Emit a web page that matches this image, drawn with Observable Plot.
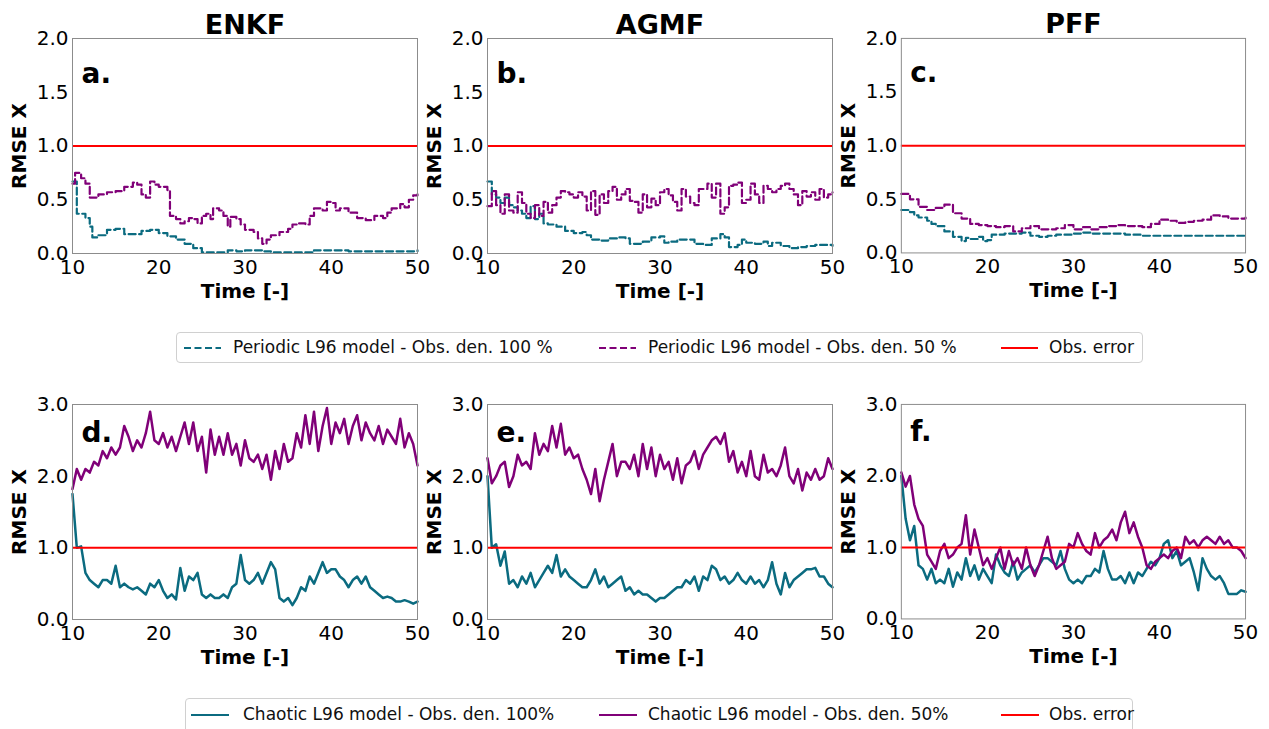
<!DOCTYPE html>
<html>
<head>
<meta charset="utf-8">
<script src="https://cdn.jsdelivr.net/npm/d3@7"></script>
<script src="https://cdn.jsdelivr.net/npm/@observablehq/plot@0.6"></script>
<style>
  html, body { margin: 0; padding: 0; background: #fff; }
  #root { position: relative; width: 1269px; height: 729px; overflow: hidden; background: #fff; font-family: "DejaVu Sans", sans-serif; }
  .panel { position: absolute; }
  .legend { position: absolute; border: 1px solid #d0d0d0; border-radius: 4px; background: #fff; box-sizing: border-box; }
  .item { position: absolute; font-size: 17px; color: #111; white-space: nowrap; line-height: 1; }
  .sw { position: absolute; }
</style>
</head>
<body>
<div id="root"></div>
<script>
// ---------------- DATA ----------------
const methods = ["ENKF", "AGMF", "PFF"];
const topLetters = ["a.", "b.", "c."];
const bottomLetters = ["d.", "e.", "f."];
const xTicks = [10, 20, 30, 40, 50];
const yTicksTop = [0, 0.5, 1.0, 1.5, 2.0];
const yTicksBottom = [0, 1, 2, 3];
const obsError = 1.0;

const legendTopLabels = ["Periodic L96 model - Obs. den. 100 %", "Periodic L96 model - Obs. den. 50 %", "Obs. error"];
const legendBottomLabels = ["Chaotic L96 model - Obs. den. 100%", "Chaotic L96 model - Obs. den. 50%", "Obs. error"];

// Periodic model (top row), step series
const enkfPer100T = [10,10.5,11.5,12,12.3,13,14,15,16,17,18,19,20,21,22,23,24,25,27,28,29,30,31,32,33,37,38,40,42,48,50];
const enkfPer100 = [0.67,0.37,0.33,0.25,0.15,0.17,0.22,0.23,0.18,0.18,0.21,0.22,0.19,0.16,0.13,0.09,0.05,0.01,0.01,0.03,0.02,0.03,0.03,0.02,0.01,0.01,0.03,0.03,0.02,0.02,0.03];
const enkfPer50T = [10,10.3,11,11.5,12,13,14,15,16,17,17.5,18,18.5,19,19.5,20,21,21.3,22,22.5,23,23.5,24,24.5,25,25.5,26,26.3,27,27.5,28,28.3,29,29.5,30,31,31.5,32,32.5,33,34,35,35.5,36,37,37.5,38,39,39.5,40,40.5,41,42,43,44,45,46,46.5,47,48,48.5,49,49.5,50];
const enkfPer50 = [0.65,0.75,0.7,0.65,0.52,0.55,0.57,0.58,0.62,0.66,0.64,0.55,0.52,0.67,0.64,0.62,0.59,0.35,0.32,0.28,0.3,0.33,0.32,0.28,0.35,0.37,0.32,0.42,0.40,0.35,0.25,0.34,0.32,0.27,0.22,0.2,0.14,0.09,0.13,0.17,0.2,0.23,0.27,0.28,0.27,0.35,0.42,0.4,0.48,0.47,0.4,0.42,0.38,0.33,0.31,0.35,0.33,0.38,0.42,0.46,0.43,0.5,0.54,0.55];

const agmfPer100T = [10,10.5,11,11.5,12,12.5,13,13.5,14,14.5,15,15.5,16,16.5,17,18,19,20,21,21.5,22,23,24,25,26,26.5,28,29,30,30.5,31,32,33,34,35,36,37,37.5,38,39,39.5,40,41,42,42.5,43,44,45,46,47,48,50];
const agmfPer100 = [0.67,0.55,0.52,0.47,0.52,0.45,0.43,0.4,0.37,0.33,0.44,0.32,0.37,0.28,0.27,0.25,0.21,0.19,0.2,0.17,0.13,0.12,0.14,0.15,0.14,0.09,0.11,0.15,0.16,0.1,0.11,0.13,0.13,0.09,0.08,0.14,0.18,0.15,0.06,0.08,0.13,0.1,0.09,0.11,0.07,0.1,0.07,0.05,0.06,0.07,0.08,0.07];
const agmfPer50T = d3.range(10, 50.01, 0.5);
const agmfPer50 = [
  0.44,0.58,0.45,0.37,0.55,0.4,0.38,0.57,0.47,0.37,
  0.33,0.45,0.35,0.48,0.38,0.45,0.52,0.58,0.57,0.55,
  0.52,0.57,0.53,0.4,0.58,0.36,0.55,0.47,0.58,0.62,
  0.5,0.55,0.6,0.49,0.48,0.38,0.55,0.43,0.51,0.45,
  0.57,0.6,0.54,0.48,0.4,0.6,0.53,0.47,0.45,0.6,
  0.6,0.65,0.52,0.65,0.37,0.43,0.63,0.64,0.66,0.47,
  0.5,0.65,0.55,0.47,0.63,0.6,0.57,0.6,0.63,0.65,
  0.6,0.55,0.45,0.58,0.53,0.57,0.5,0.6,0.52,0.55,
  0.57];

const pffPer100T = [10,11,11.5,12,13,13.5,14,15,16,17,17.5,18,19,19.5,20,20.5,22,24,25,26,27,28,30,31,32,36,38,50];
const pffPer100 = [0.4,0.38,0.35,0.33,0.3,0.27,0.25,0.2,0.15,0.11,0.14,0.13,0.15,0.11,0.12,0.17,0.18,0.19,0.16,0.15,0.16,0.17,0.18,0.19,0.18,0.17,0.16,0.16];
const pffPer50T = d3.range(10, 50.01, 1);
const pffPer50 = [
  0.55,0.5,0.43,0.4,0.42,0.45,0.37,0.32,0.27,0.26,
  0.25,0.24,0.25,0.2,0.23,0.25,0.22,0.22,0.23,0.26,
  0.22,0.24,0.22,0.24,0.25,0.26,0.25,0.25,0.24,0.27,
  0.31,0.3,0.28,0.29,0.3,0.31,0.35,0.34,0.32,0.32,
  0.33];

// Chaotic model (bottom row), sampled every 0.5 time units
const chaoticT = d3.range(10, 50.01, 0.5);
const enkfCha100 = [
  1.75,1.0,1.02,0.65,0.55,0.5,0.45,0.55,0.55,0.5,
  0.75,0.45,0.5,0.45,0.42,0.45,0.4,0.35,0.5,0.45,
  0.55,0.4,0.3,0.35,0.28,0.72,0.4,0.6,0.55,0.65,
  0.35,0.3,0.35,0.3,0.3,0.35,0.3,0.45,0.5,0.9,
  0.55,0.5,0.55,0.65,0.5,0.65,0.8,0.7,0.3,0.25,
  0.3,0.2,0.3,0.45,0.4,0.6,0.5,0.65,0.8,0.65,
  0.7,0.7,0.6,0.55,0.45,0.55,0.6,0.5,0.6,0.45,
  0.4,0.35,0.3,0.32,0.3,0.25,0.25,0.27,0.25,0.22,
  0.25];
const enkfCha50 = [
  1.82,2.1,1.95,2.1,2.05,2.2,2.15,2.35,2.25,2.4,
  2.3,2.4,2.7,2.55,2.35,2.5,2.4,2.6,2.9,2.5,
  2.45,2.6,2.4,2.55,2.35,2.55,2.75,2.45,2.75,2.35,
  2.55,2.05,2.65,2.3,2.55,2.3,2.6,2.3,2.45,2.15,
  2.5,2.25,2.2,2.3,2.1,2.3,1.95,2.35,2.1,2.45,
  2.2,2.25,2.6,2.4,2.85,2.45,2.9,2.35,2.7,2.95,
  2.45,2.75,2.6,2.8,2.45,2.7,2.85,2.5,2.75,2.6,
  2.5,2.7,2.45,2.65,2.55,2.45,2.8,2.4,2.6,2.45,
  2.15];
const agmfCha100 = [
  2.0,1.0,1.05,0.75,0.95,0.5,0.55,0.45,0.6,0.5,
  0.65,0.45,0.55,0.65,0.75,0.65,0.9,0.6,0.7,0.6,
  0.55,0.5,0.45,0.45,0.55,0.7,0.5,0.6,0.45,0.5,
  0.55,0.6,0.4,0.45,0.35,0.4,0.35,0.35,0.3,0.25,
  0.3,0.3,0.35,0.4,0.45,0.45,0.55,0.5,0.6,0.4,
  0.6,0.55,0.75,0.7,0.55,0.6,0.5,0.55,0.65,0.55,
  0.5,0.6,0.5,0.55,0.45,0.55,0.8,0.5,0.35,0.65,
  0.45,0.55,0.6,0.65,0.7,0.7,0.72,0.6,0.6,0.5,
  0.45];
const agmfCha50 = [
  2.25,1.9,2.0,2.15,2.2,1.85,2.0,2.3,2.15,2.2,
  2.1,2.6,2.3,2.45,2.35,2.7,2.4,2.73,2.3,2.4,
  2.25,2.3,2.1,1.95,1.75,2.1,1.65,1.95,2.2,2.45,
  2.0,2.2,2.2,2.1,2.3,2.0,2.45,2.1,2.4,2.0,
  2.3,2.1,2.2,1.95,2.25,1.9,2.15,2.2,2.35,2.1,
  2.3,2.4,2.5,2.55,2.45,2.6,2.2,2.35,2.05,2.2,
  2.0,2.35,2.0,1.95,2.3,2.05,2.1,2.0,2.15,2.4,
  2.0,1.9,2.1,1.8,2.05,1.95,2.1,1.95,2.0,2.25,
  2.1];
const pffCha100 = [
  2.0,1.4,1.1,1.3,0.75,0.7,0.55,0.7,0.5,0.55,
  0.5,0.7,0.45,0.65,0.55,0.85,0.6,0.75,0.55,0.7,
  0.6,0.5,0.9,0.75,0.65,0.6,0.8,0.55,0.65,0.7,
  0.75,0.65,0.75,0.85,0.85,0.8,0.75,0.95,0.7,0.55,
  0.5,0.55,0.5,0.6,0.6,0.7,0.65,0.95,0.7,0.55,
  0.55,0.6,0.5,0.65,0.5,0.65,0.6,0.7,0.8,0.75,
  0.85,1.05,1.1,0.85,0.95,0.75,0.8,0.85,0.65,0.4,
  0.85,0.7,0.6,0.55,0.6,0.5,0.35,0.35,0.35,0.4,
  0.38];
const pffCha50 = [
  2.05,1.85,2.0,1.6,1.4,1.3,0.9,0.8,0.7,0.95,
  1.05,0.85,0.9,1.0,1.05,1.45,0.9,1.25,1.0,0.75,
  0.85,0.7,0.85,1.0,0.7,0.95,0.75,0.85,0.7,1.0,
  0.75,0.6,0.75,0.95,1.15,0.85,0.7,0.75,0.8,1.05,
  1.0,1.2,1.05,0.95,0.9,1.2,1.0,1.1,1.15,1.25,
  1.1,1.35,1.5,1.2,1.35,1.15,1.0,0.75,0.7,0.8,
  0.85,0.9,0.85,0.95,1.0,0.85,1.15,1.05,1.1,1.0,
  1.1,1.15,1.1,1.05,1.15,1.05,1.1,1.0,1.0,0.95,
  0.85];

// ---------------- STYLE ----------------
const teal = "#0b6b80";
const purple = "#800078";
const red = "#ff0000";
const frameW = 345, frameH = 215;
const colX = [72, 487, 901];
const rowY = [38, 404];
const ML = 72, MR = 24;

const root = document.getElementById("root");
const pts = (t, v) => t.map((x, i) => ({t: x, v: v[i]}));

function panel({col, row, yMax, yTicks, series, title, letter, dashed}) {
  const mt = row === 0 ? 38 : 30;
  const mb = 52;
  const marks = [];
  for (const s of series) {
    marks.push(Plot.line(pts(s.t, s.v), {
      x: "t", y: "v", stroke: s.color,
      strokeWidth: dashed ? 2.2 : 2.5,
      strokeDasharray: dashed ? "7,3.5" : null,
      curve: dashed ? "step-after" : "linear"
    }));
  }
  marks.push(Plot.ruleY([obsError], {stroke: red, strokeWidth: 2}));
  marks.push(Plot.frame({stroke: "#8c8c8c", strokeWidth: 1}));
  marks.push(Plot.axisX({ticks: xTicks, tickSize: 0, tickPadding: 6, fontSize: 20, label: null}));
  marks.push(Plot.axisY({ticks: yTicks, tickSize: 0, tickPadding: 4, fontSize: 20, label: null, tickFormat: d3.format(".1f")}));
  marks.push(Plot.text(["Time [-]"], {text: d => d, frameAnchor: "bottom", lineAnchor: "bottom", dy: 44, fontSize: 20, fontWeight: "bold", fill: "#000"}));
  marks.push(Plot.text(["RMSE X"], {text: d => d, frameAnchor: "left", rotate: -90, textAnchor: "middle", lineAnchor: "middle", dx: -53, fontSize: 20, fontWeight: "bold", fill: "#000"}));
  marks.push(Plot.text([letter], {text: d => d, frameAnchor: "top-left", textAnchor: "start", lineAnchor: "bottom", dx: 9, dy: row === 0 ? 44 : 37, fontSize: 28, fontWeight: "bold", fill: "#000"}));
  if (title) {
    marks.push(Plot.text([title], {text: d => d, frameAnchor: "top", lineAnchor: "bottom", dy: -5, fontSize: 27, fontWeight: "bold", fill: "#000"}));
  }
  const svg = Plot.plot({
    width: frameW + ML + MR,
    height: frameH + mt + mb,
    marginLeft: ML, marginRight: MR, marginTop: mt, marginBottom: mb,
    x: {domain: [10, 50]},
    y: {domain: [0, yMax]},
    style: {fontFamily: "DejaVu Sans", fontSize: "20px", color: "#000", background: "transparent", overflow: "visible"},
    marks
  });
  const wrap = document.createElement("div");
  wrap.className = "panel";
  wrap.style.left = (colX[col] - ML) + "px";
  wrap.style.top = (rowY[row] - mt) + "px";
  wrap.appendChild(svg);
  root.appendChild(wrap);
}

const topSeries = [
  [{t: enkfPer100T, v: enkfPer100, color: teal}, {t: enkfPer50T, v: enkfPer50, color: purple}],
  [{t: agmfPer100T, v: agmfPer100, color: teal}, {t: agmfPer50T, v: agmfPer50, color: purple}],
  [{t: pffPer100T, v: pffPer100, color: teal}, {t: pffPer50T, v: pffPer50, color: purple}]
];
const bottomSeries = [
  [{t: chaoticT, v: enkfCha100, color: teal}, {t: chaoticT, v: enkfCha50, color: purple}],
  [{t: chaoticT, v: agmfCha100, color: teal}, {t: chaoticT, v: agmfCha50, color: purple}],
  [{t: chaoticT, v: pffCha100, color: teal}, {t: chaoticT, v: pffCha50, color: purple}]
];

for (let c = 0; c < 3; c++) {
  panel({col: c, row: 0, yMax: 2, yTicks: yTicksTop, series: topSeries[c], title: methods[c], letter: topLetters[c], dashed: true});
  panel({col: c, row: 1, yMax: 3, yTicks: yTicksBottom, series: bottomSeries[c], title: null, letter: bottomLetters[c], dashed: false});
}

// ---------------- LEGENDS ----------------
function legend({left, top, width, height, labels, dashed, items}) {
  const box = document.createElement("div");
  box.className = "legend";
  Object.assign(box.style, {left: left + "px", top: top + "px", width: width + "px", height: height + "px"});
  const colors = [teal, purple, red];
  items.forEach((it, i) => {
    const sw = document.createElementNS("http://www.w3.org/2000/svg", "svg");
    sw.setAttribute("class", "sw");
    sw.setAttribute("width", 40); sw.setAttribute("height", 6);
    sw.style.left = (it.sx - left) + "px";
    sw.style.top = (it.sy - top - 3) + "px";
    const ln = document.createElementNS("http://www.w3.org/2000/svg", "line");
    ln.setAttribute("x1", 0); ln.setAttribute("x2", it.sw); ln.setAttribute("y1", 3); ln.setAttribute("y2", 3);
    ln.setAttribute("stroke", colors[i]); ln.setAttribute("stroke-width", 2.2);
    if (dashed && i < 2) ln.setAttribute("stroke-dasharray", "7,3.5");
    sw.appendChild(ln);
    box.appendChild(sw);
    const tx = document.createElement("div");
    tx.className = "item";
    tx.textContent = labels[i];
    tx.style.left = (it.tx - left) + "px";
    tx.style.top = (it.sy - top - 9) + "px";
    box.appendChild(tx);
  });
  root.appendChild(box);
}

legend({left: 176, top: 332, width: 967, height: 31, labels: legendTopLabels, dashed: true,
  items: [{sx: 183, sw: 37, sy: 347, tx: 232}, {sx: 598, sw: 37, sy: 347, tx: 647}, {sx: 1000, sw: 37, sy: 347, tx: 1048}]});
legend({left: 185, top: 698, width: 948, height: 36, labels: legendBottomLabels, dashed: false,
  items: [{sx: 190, sw: 38, sy: 714, tx: 242}, {sx: 598, sw: 38, sy: 714, tx: 647}, {sx: 1000, sw: 38, sy: 714, tx: 1048}]});
</script>
</body>
</html>
